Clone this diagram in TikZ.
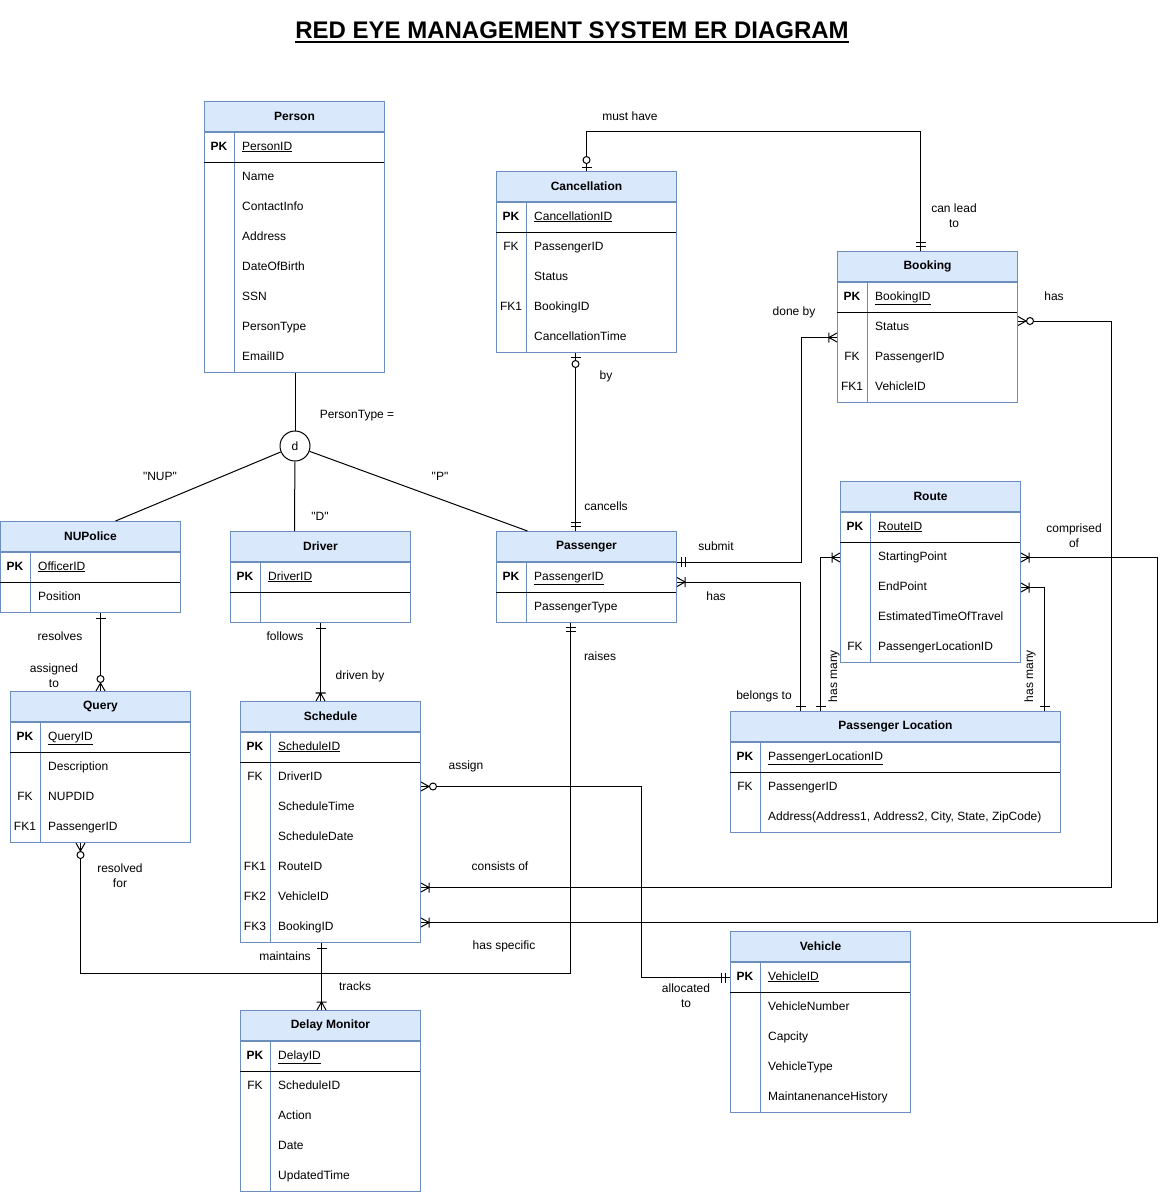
\documentclass[tikz,border=0pt]{standalone}
\usepackage{fontspec}
\setmainfont{Liberation Sans}
\newfontfamily\plainsans{Liberation Sans}
\usetikzlibrary{calc, decorations.markings}

\definecolor{hdrblue}{HTML}{DAE8FC}
\definecolor{brdblue}{HTML}{6C8EBF}
\newcommand{\erfs}{\fontsize{12}{15}\selectfont}

\tikzset{
  erhead/.style={rectangle, draw=brdblue, fill=hdrblue, line width=1pt,
    minimum height=30, anchor=north west, inner sep=0pt, font=\erfs\bfseries},
  erbody/.style={rectangle, draw=brdblue, line width=1pt,
    anchor=north west, inner sep=0pt},
  erkey/.style={inner sep=0pt, text height=9pt, text depth=3pt},
  erfld/.style={anchor=west, inner sep=0pt, text height=9pt, text depth=3pt},
  lbl/.style={align=center, inner sep=0pt},
  rel/.style={draw=black, line width=1pt},
  erone/.pic={\draw[line width=1pt] (5,-5) -- (5,5);},
  ertwo/.pic={\draw[line width=1pt] (4,-5) -- (4,5) (8,-5) -- (8,5);},
  ermany/.pic={\draw[line width=1pt] (0,4.5) -- (8,0) -- (0,-4.5) (8,-5) -- (8,5);},
  erzmany/.pic={\draw[line width=1pt] (0,4.5) -- (8,0) -- (0,-4.5);
    \draw[line width=1pt, fill=white] (12,0) circle[radius=3.5];},
  erzone/.pic={\draw[line width=1pt] (4,-5) -- (4,5);
    \draw[line width=1pt, fill=white] (11,0) circle[radius=3.5];},
  tipS/.style={postaction={decorate, decoration={markings,
    mark=at position 0pt with {\pic[transform shape]{#1};}}}},
  tipE/.style={postaction={decorate, decoration={markings,
    mark=at position -0.01pt with {\pic[transform shape, xscale=-1]{#1};}}}},
}

% name, top left, width, title, primary key, other rows (key/field)
\newcommand{\ertable}[6]{%
  \node[erhead, minimum width=#3] (#1) at (#2) {#4};
  \node[erkey, font=\erfs\bfseries] (#1k0) at ($(#1.south west)+(15,15)$) {PK};
  \node[erfld] (#1f0) at ($(#1.south west)+(38,15)$) {\underline{#5}};
  \foreach [count=\i] \k/\f in {#6} {
    \node[erkey] (#1k\i) at ($(#1.south west)+(15,15+30*\i)$) {\k};
    \node[erfld] (#1f\i) at ($(#1.south west)+(38,15+30*\i)$) {\f};
    \xdef\nrow{\i}}
  \node[erbody, minimum width=#3, minimum height=30+30*\nrow] (#1b) at (#1.south west) {};
  \draw[draw=brdblue, line width=1pt] ($(#1.south west)+(30,0)$) -- ++(0,30+30*\nrow);
  \draw[line width=1pt] ($(#1.south west)+(0,30)$) -- ++(#3,0);
}

\begin{document}
\begin{tikzpicture}[x=1pt, y=-1pt, every node/.style={font=\erfs}]
  \fill[white] (0,0) rectangle (1166,1192);
  \useasboundingbox (0,0) rectangle (1166,1192);

  \node[font=\fontsize{24}{28}\selectfont\bfseries, inner sep=0pt] (title) at (572,30)
       {RED EYE MANAGEMENT SYSTEM ER DIAGRAM};
  \draw[line width=2pt] ([yshift=-3pt]title.south west) -- ([yshift=-3pt]title.south east);

  \ertable{per}{204,101}{180}{Person}{PersonID}
    {/Name, /ContactInfo, /Address, /DateOfBirth, /SSN, /PersonType, /EmailID}
  \ertable{cnl}{496,171}{180}{Cancellation}{CancellationID}
    {FK/PassengerID, /Status, FK1/BookingID, /CancellationTime}
  \ertable{bok}{837,251}{180}{Booking}{BookingID}
    {/Status, FK/PassengerID, FK1/VehicleID}
  \ertable{nup}{0,521}{180}{NUPolice}{OfficerID}{/Position}
  \ertable{drv}{230,531}{180}{Driver}{DriverID}{/}
  \ertable{pas}{496,531}{180}{Passenger}{PassengerID}{/PassengerType}
  \ertable{rte}{840,481}{180}{Route}{RouteID}
    {/StartingPoint, /EndPoint, /EstimatedTimeOfTravel, FK/PassengerLocationID}
  \ertable{qry}{10,691}{180}{Query}{QueryID}
    {/Description, FK/NUPDID, FK1/PassengerID}
  \ertable{sch}{240,701}{180}{Schedule}{ScheduleID}
    {FK/DriverID, /ScheduleTime, /ScheduleDate, FK1/RouteID, FK2/VehicleID, FK3/BookingID}
  \ertable{ploc}{730,711}{330}{Passenger Location}{PassengerLocationID}
    {FK/PassengerID, /{Address(Address1, Address2, City, State, ZipCode)}}
  \ertable{veh}{730,931}{180}{Vehicle}{VehicleID}
    {/VehicleNumber, /Capcity, /VehicleType, /MaintanenanceHistory}
  \ertable{dly}{240,1010}{180}{Delay Monitor}{DelayID}
    {FK/ScheduleID, /Action, /Date, /UpdatedTime}

  % specialisation of Person
  \node[circle, draw, line width=1pt, minimum size=30, inner sep=0pt] (dsc) at (295,446) {d};
  \draw[rel] (dsc |- perb.south) -- (dsc);
  \draw[rel] (dsc) -- ([xshift=25pt]nup.north);
  \draw[rel] (dsc) -- ([xshift=-26pt]drv.north);
  \draw[rel] (dsc) -- ([xshift=-59pt]pas.north);
  \node[lbl] (l-ptype) at (357,416) {PersonType =};
  \node[lbl, font=\erfs\plainsans] (l-nup) at (160,476) {"NUP"};
  \node[lbl, font=\erfs\plainsans] (l-d) at (320,516) {"D"};
  \node[lbl, font=\erfs\plainsans] (l-p) at (440,476) {"P"};

  % relationships
  \draw[rel, tipS=erzone, tipE=ertwo] (cnl.north) -- ++(0,-40) -| ([xshift=-7pt]bok.north);
  \draw[rel, tipS=erzone, tipE=ertwo] ([xshift=-11pt]cnlb.south) -- ([xshift=-11pt]pas.north);
  \draw[rel, tipS=ertwo, tipE=ermany] (pas.south east) -- ++(124,0) |- ([yshift=5pt]bokb.west);
  \draw[rel, tipS=ermany, tipE=erone] ([yshift=-20pt]pas.south east) -| ([xshift=-95pt]ploc.north);
  \draw[rel, tipS=erzmany, tipE=ermany] ([yshift=-39pt]bok.south east) -- ++(93,0) |- ([yshift=-50pt]schb.east);
  \draw[rel, tipS=ermany, tipE=ermany] ([yshift=30pt]rteb.east) -- ++(136,0) |- ([yshift=-85pt]schb.east);
  \draw[rel, tipS=ermany, tipE=erone] ([yshift=30pt]rteb.west) -| ([xshift=-75pt]ploc.north);
  \draw[rel, tipS=ermany, tipE=erone] (rteb.east) -| ([xshift=149pt]ploc.north);
  \draw[rel, tipS=erone, tipE=erzmany] ([xshift=10pt]nupb.south) -- (qry.north);
  \draw[rel, tipS=erone, tipE=ermany] (drvb.south) -- ([xshift=-10pt]sch.north);
  \draw[rel, tipS=erzmany, tipE=ertwo] ([xshift=-20pt]qryb.south) -- ++(0,130) -| ([xshift=-16pt]pasb.south);
  \draw[rel, tipS=erone, tipE=ermany] ([xshift=-9pt]schb.south) -- ([xshift=-9pt]dly.north);
  \draw[rel, tipS=erzmany, tipE=ertwo] ([yshift=51pt]schb.east) -- ++(220,0) |- ([yshift=60pt]vehb.west);

  \node[lbl] (l-must) at (630,116) {must have};
  \node[lbl] (l-lead) at (954,216) {can lead\\to};
  \node[lbl] (l-done) at (794,312) {done by};
  \node[lbl] (l-bhas) at (1054,296) {has};
  \node[lbl] (l-by) at (606,376) {by};
  \node[lbl] (l-canc) at (606,506) {cancells};
  \node[lbl] (l-sub) at (716,546) {submit};
  \node[lbl] (l-phas) at (716,596) {has};
  \node[lbl] (l-comp) at (1074,536) {comprised\\of};
  \node[lbl] (l-belong) at (764,696) {belongs to};
  \node[lbl, rotate=90] (l-many1) at (834,676) {has many};
  \node[lbl, rotate=90] (l-many2) at (1030,676) {has many};
  \node[lbl] (l-resv) at (60,636) {resolves};
  \node[lbl] (l-asgto) at (54,676) {assigned\\to};
  \node[lbl] (l-foll) at (285,636) {follows};
  \node[lbl] (l-drvn) at (360,676) {driven by};
  \node[lbl] (l-raise) at (600,656) {raises};
  \node[lbl] (l-asg) at (466,766) {assign};
  \node[lbl] (l-cons) at (500,866) {consists of};
  \node[lbl] (l-resfor) at (120,876) {resolved\\for};
  \node[lbl] (l-spec) at (504,946) {has specific};
  \node[lbl] (l-maint) at (285,956) {maintains};
  \node[lbl] (l-track) at (355,986) {tracks};
  \node[lbl] (l-alloc) at (686,996) {allocated\\to};
\end{tikzpicture}
\end{document}
